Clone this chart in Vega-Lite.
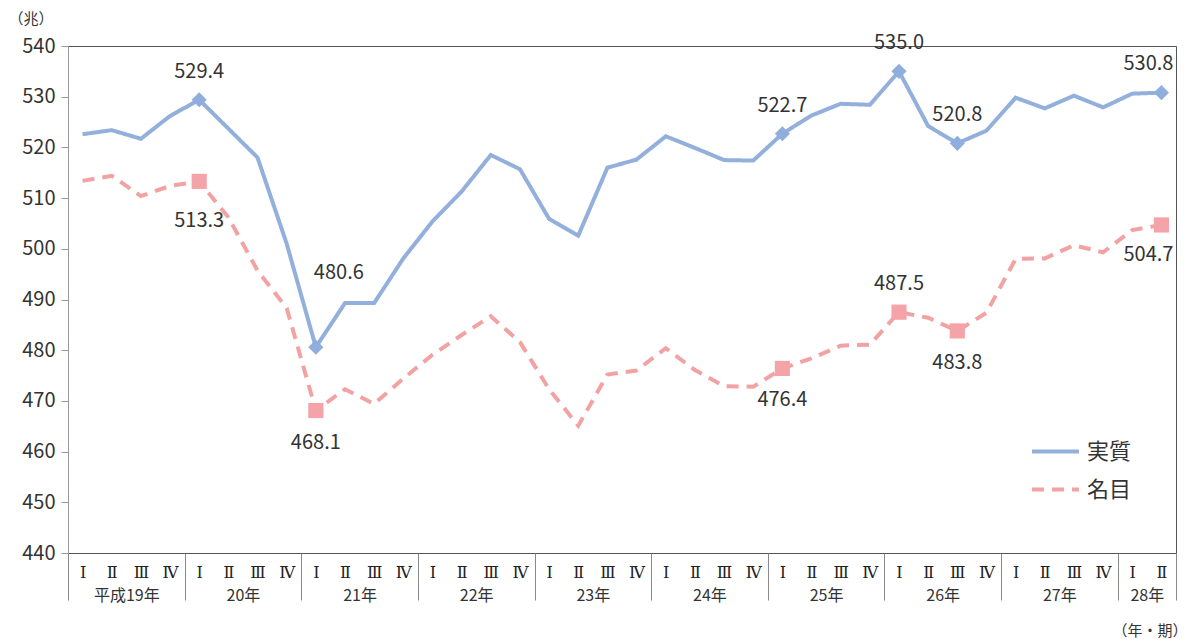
{
  "$schema": "https://vega.github.io/schema/vega-lite/v6.json",
  "width": 1108,
  "height": 507,
  "autosize": {"type": "none"},
  "padding": {"left": 68, "top": 46, "right": 11, "bottom": 86},
  "background": "white",
  "config": {"view": {"stroke": "#555", "strokeWidth": 1}, "font": "Noto Sans CJK JP"},
  "data": {"values": [
    {"i": 0, "実質": 522.6, "名目": 513.4},
    {"i": 1, "実質": 523.4, "名目": 514.4},
    {"i": 2, "実質": 521.7, "名目": 510.4},
    {"i": 3, "実質": 526.2, "名目": 512.4},
    {"i": 4, "実質": 529.4, "名目": 513.3},
    {"i": 5, "実質": 523.7, "名目": 506.2},
    {"i": 6, "実質": 518.0, "名目": 495.7},
    {"i": 7, "実質": 501.0, "名目": 488.3},
    {"i": 8, "実質": 480.6, "名目": 468.1},
    {"i": 9, "実質": 489.3, "名目": 472.3},
    {"i": 10, "実質": 489.3, "名目": 469.4},
    {"i": 11, "実質": 498.1, "名目": 474.4},
    {"i": 12, "実質": 505.4, "名目": 479.1},
    {"i": 13, "実質": 511.3, "名目": 483.0},
    {"i": 14, "実質": 518.5, "名目": 486.7},
    {"i": 15, "実質": 515.7, "名目": 481.6},
    {"i": 16, "実質": 505.9, "名目": 472.3},
    {"i": 17, "実質": 502.6, "名目": 465.1},
    {"i": 18, "実質": 516.0, "名目": 475.2},
    {"i": 19, "実質": 517.6, "名目": 476.0},
    {"i": 20, "実質": 522.2, "名目": 480.4},
    {"i": 21, "実質": 519.9, "名目": 476.1},
    {"i": 22, "実質": 517.5, "名目": 472.9},
    {"i": 23, "実質": 517.4, "名目": 472.8},
    {"i": 24, "実質": 522.7, "名目": 476.4},
    {"i": 25, "実質": 526.3, "名目": 478.4},
    {"i": 26, "実質": 528.6, "名目": 480.9},
    {"i": 27, "実質": 528.4, "名目": 481.1},
    {"i": 28, "実質": 535.0, "名目": 487.5},
    {"i": 29, "実質": 524.2, "名目": 486.4},
    {"i": 30, "実質": 520.8, "名目": 483.8},
    {"i": 31, "実質": 523.3, "名目": 487.4},
    {"i": 32, "実質": 529.8, "名目": 498.0},
    {"i": 33, "実質": 527.7, "名目": 498.1},
    {"i": 34, "実質": 530.2, "名目": 500.7},
    {"i": 35, "実質": 527.9, "名目": 499.3},
    {"i": 36, "実質": 530.6, "名目": 503.7},
    {"i": 37, "実質": 530.8, "名目": 504.7}
  ]},
  "transform": [{"fold": ["実質", "名目"], "as": ["系列", "値"]}],
  "encoding": {
    "y": {
      "field": "値", "type": "quantitative",
      "scale": {"domain": [440, 540], "nice": false, "zero": false},
      "axis": {
        "title": "（兆）", "values": [440, 450, 460, 470, 480, 490, 500, 510, 520, 530, 540],
        "grid": false, "domainColor": "#999", "tickColor": "#999", "tickSize": 7, "labelPadding": 6,
        "labelFontSize": 20, "labelColor": "#333",
        "titleAngle": 0, "titleX": -60, "titleY": -28, "titleAlign": "left", "titleBaseline": "middle",
        "titleFontSize": 15, "titleFontWeight": "normal", "titleColor": "#333"
      }
    }
  },
  "layer": [
    {
      "mark": {"type": "line", "strokeWidth": 4, "strokeCap": "butt"},
      "encoding": {
        "x": {"field": "i", "type": "quantitative", "scale": {"domain": [-0.5, 37.5], "nice": false, "zero": false},
          "axis": {"orient": "bottom", "title": null, "values": [0,1,2,3,4,5,6,7,8,9,10,11,12,13,14,15,16,17,18,19,20,21,22,23,24,25,26,27,28,29,30,31,32,33,34,35,36,37],
            "labelExpr": "['Ⅰ','Ⅱ','Ⅲ','Ⅳ'][datum.value % 4]",
            "grid": false, "domain": false, "ticks": false, "tickSize": 0, "labelPadding": 11,
            "labelFont": "DejaVu Serif", "labelFontSize": 16, "labelColor": "#222",
            "labelOverlap": false, "labelFlush": false, "labelBaseline": "top"}},
        "color": {"field": "系列", "type": "nominal",
          "scale": {"domain": ["実質", "名目"], "range": ["#93AFDC", "#F2A2A2"]},
          "legend": {"title": null, "orient": "none", "legendX": 962, "legendY": 380, "symbolType": "stroke", "symbolSize": 2209, "symbolStrokeWidth": 4, "labelFontSize": 22, "labelColor": "#333", "labelOffset": 6, "padding": 0, "rowPadding": 1}},
        "strokeDash": {"field": "系列", "type": "nominal",
          "scale": {"domain": ["実質", "名目"], "range": [[1, 0], [12, 8]]},
          "legend": {"title": null, "orient": "none", "legendX": 962, "legendY": 380, "symbolType": "stroke", "symbolSize": 2209, "symbolStrokeWidth": 4, "labelFontSize": 22, "labelColor": "#333", "labelOffset": 6, "padding": 0, "rowPadding": 1}}
      }
    },
    {
      "transform": [{"filter": "indexof([4, 8, 24, 28, 30, 37], datum.i) >= 0"}],
      "mark": {"type": "point", "filled": true, "opacity": 1, "size": 230},
      "encoding": {
        "x": {"field": "i", "type": "quantitative", "scale": {"domain": [-0.5, 37.5], "nice": false, "zero": false},
          "axis": {"orient": "bottom", "title": null, "values": [-0.5, 3.5, 7.5, 11.5, 15.5, 19.5, 23.5, 27.5, 31.5, 35.5, 37.5],
            "labels": false, "grid": false, "domain": false, "tickSize": 47, "tickColor": "#888", "tickWidth": 1}},
        "shape": {"condition": {"test": "datum['系列'] == '実質'", "value": "diamond"}, "value": "square"},
        "color": {"condition": {"test": "datum['系列'] == '実質'", "value": "#8FAEDD"}, "value": "#F4A3A8"}
      }
    },
    {
      "transform": [{"filter": "(datum['系列'] == '実質' && indexof([4, 24, 28, 30], datum.i) >= 0) || (datum['系列'] == '名目' && datum.i == 28)"}],
      "mark": {"type": "text", "dy": -28, "fontSize": 20, "color": "#333", "baseline": "middle"},
      "encoding": {
        "x": {"field": "i", "type": "quantitative", "scale": {"domain": [-0.5, 37.5], "nice": false, "zero": false},
          "axis": {"orient": "bottom", "title": "（年・期）", "values": [1.5, 5.5, 9.5, 13.5, 17.5, 21.5, 25.5, 29.5, 33.5, 36.5],
            "labelExpr": "datum.value < 2 ? '平成19年' : (19 + floor(datum.value / 4)) + '年'",
            "grid": false, "domain": false, "ticks": false, "labelPadding": 34,
            "labelFontSize": 16, "labelColor": "#333", "labelOverlap": false, "labelFlush": false, "labelBaseline": "top",
            "titleX": 1119, "titleY": 77, "titleAlign": "right", "titleBaseline": "middle",
            "titleFontSize": 15, "titleFontWeight": "normal", "titleColor": "#333"}},
        "text": {"field": "値", "type": "quantitative", "format": ".1f"}
      }
    },
    {
      "transform": [{"filter": "datum['系列'] == '実質' && datum.i == 37"}],
      "mark": {"type": "text", "dx": -13, "dy": -29, "fontSize": 20, "color": "#333", "baseline": "middle"},
      "encoding": {
        "x": {"field": "i", "type": "quantitative", "scale": {"domain": [-0.5, 37.5], "nice": false, "zero": false}, "axis": null},
        "text": {"field": "値", "type": "quantitative", "format": ".1f"}
      }
    },
    {
      "transform": [{"filter": "datum['系列'] == '実質' && datum.i == 8"}],
      "mark": {"type": "text", "dx": 23, "dy": -74, "fontSize": 20, "color": "#333", "baseline": "middle"},
      "encoding": {
        "x": {"field": "i", "type": "quantitative", "scale": {"domain": [-0.5, 37.5], "nice": false, "zero": false}, "axis": null},
        "text": {"field": "値", "type": "quantitative", "format": ".1f"}
      }
    },
    {
      "transform": [{"filter": "datum['系列'] == '名目' && indexof([8, 24, 30], datum.i) >= 0"}],
      "mark": {"type": "text", "dy": 32, "fontSize": 20, "color": "#333", "baseline": "middle"},
      "encoding": {
        "x": {"field": "i", "type": "quantitative", "scale": {"domain": [-0.5, 37.5], "nice": false, "zero": false}, "axis": null},
        "text": {"field": "値", "type": "quantitative", "format": ".1f"}
      }
    },
    {
      "transform": [{"filter": "datum['系列'] == '名目' && datum.i == 4"}],
      "mark": {"type": "text", "dy": 40, "fontSize": 20, "color": "#333", "baseline": "middle"},
      "encoding": {
        "x": {"field": "i", "type": "quantitative", "scale": {"domain": [-0.5, 37.5], "nice": false, "zero": false}, "axis": null},
        "text": {"field": "値", "type": "quantitative", "format": ".1f"}
      }
    },
    {
      "transform": [{"filter": "datum['系列'] == '名目' && datum.i == 37"}],
      "mark": {"type": "text", "dx": -13, "dy": 30, "fontSize": 20, "color": "#333", "baseline": "middle"},
      "encoding": {
        "x": {"field": "i", "type": "quantitative", "scale": {"domain": [-0.5, 37.5], "nice": false, "zero": false}, "axis": null},
        "text": {"field": "値", "type": "quantitative", "format": ".1f"}
      }
    }
  ],
  "resolve": {"axis": {"x": "independent"}}
}
